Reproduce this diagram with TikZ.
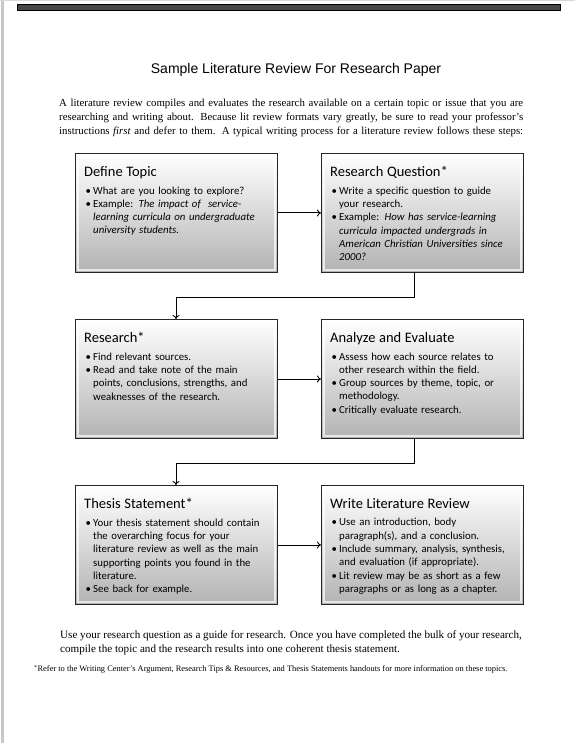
\documentclass[tikz,border=0pt]{standalone}
\usepackage{fontspec}
\setmainfont{Liberation Serif}
\newfontfamily\titlefont{Liberation Sans}
\newfontfamily\boxfont{Carlito}
\usetikzlibrary{arrows.meta,calc}
\newcommand{\bitem}[1]{\par\hangindent=9pt\hangafter=1\noindent\makebox[9pt][l]{\hspace{1.5pt}\textbullet}#1\par}
\tikzset{
  stepbox/.style={draw=black!85, line width=0.9pt, top color=white, bottom color=black!30,
    minimum width=202pt, minimum height=119pt, inner sep=0pt, anchor=north west},
  bevel/.style={draw=white, line width=1.6pt, opacity=0.7},
  boxtext/.style={anchor=north west, inner sep=0pt, text width=200pt, align=left,
    font=\boxfont\fontsize{10.8}{13.3}\selectfont},
  arr/.style={-{To[length=4pt,width=7pt]}, line width=0.9pt, black}
}
\newcommand{\boxhead}[1]{{\fontsize{14.5}{16}\selectfont #1}\par\vspace{4.5pt}}
\begin{document}
\begin{tikzpicture}[x=1pt,y=-1pt]
\useasboundingbox (0,0) rectangle (575,743);
\fill[white] (0,0) rectangle (575,743);
% page edges
\fill[black!22] (1,0) rectangle (3.5,743);
\fill[black!15] (0,0) rectangle (575,1.2);
\draw[fill=black!72, draw=black] (17,4) rectangle (560,10);

% title
\node[font=\titlefont\fontsize{14}{16}\selectfont, anchor=base] (title) at (296,74) {Sample Literature Review For Research Paper};

% intro paragraph
\node[anchor=north west, inner sep=0pt, align=left, font=\fontsize{10.8}{14}\selectfont] (intro) at (59,99)
{\makebox[464pt][s]{A literature review compiles and evaluates the research available on a certain topic or issue that you are}\\
 \makebox[464pt][s]{researching and writing about. Because lit review formats vary greatly, be sure to read your professor's}\\
 \makebox[464pt][s]{instructions \textit{first} and defer to them. A typical writing process for a literature review follows these steps:}};

% boxes
\node[stepbox] (b1) at (75,153) {};
\node[stepbox] (b2) at (321,153) {};
\node[stepbox] (b3) at (75,319) {};
\node[stepbox] (b4) at (321,319) {};
\node[stepbox] (b5) at (75,485) {};
\node[stepbox] (b6) at (321,485) {};
\foreach \b in {b1,b2,b3,b4,b5,b6}{
  \draw[bevel] ($(\b.north west)+(3,3)$) rectangle ($(\b.south east)+(-3,-3)$);
}

% box texts
\node[boxtext] (t1) at (84,166) {\boxhead{Define Topic}
\bitem{What are you looking to explore?}
\bitem{Example: \textit{The impact of\ \ service-}\newline\textit{learning curricula on undergraduate}\newline\textit{university students.}}};

\node[boxtext] (t2) at (330,166) {\boxhead{Research Question*}
\bitem{Write a specific question to guide\newline your research.}
\bitem{Example: \textit{How has service-learning}\newline\textit{curricula impacted undergrads in}\newline\textit{American Christian Universities since}\newline\textit{2000?}}};

\node[boxtext] (t3) at (84,332) {\boxhead{Research*}
\bitem{Find relevant sources.}
\bitem{Read and take note of the main\newline points, conclusions, strengths, and\newline weaknesses of the research.}};

\node[boxtext] (t4) at (330,332) {\boxhead{Analyze and Evaluate}
\bitem{Assess how each source relates to\newline other research within the field.}
\bitem{Group sources by theme, topic, or\newline methodology.}
\bitem{Critically evaluate research.}};

\node[boxtext] (t5) at (84,498) {\boxhead{Thesis Statement*}
\bitem{Your thesis statement should contain\newline the overarching focus for your\newline literature review as well as the main\newline supporting points you found in the\newline literature.}
\bitem{See back for example.}};

\node[boxtext] (t6) at (330,498) {\boxhead{Write Literature Review}
\bitem{Use an introduction, body\newline paragraph(s), and a conclusion.}
\bitem{Include summary, analysis, synthesis,\newline and evaluation (if appropriate).}
\bitem{Lit review may be as short as a few\newline paragraphs or as long as a chapter.}};

% connectors
\draw[arr] (b1) -- (b2);
\draw[arr] (b3) -- (b4);
\draw[arr] (b5) -- (b6);
\coordinate (k1) at (414,297);
\coordinate (k2) at (176,297);
\draw[arr] (b2.south -| k1) -- (k1) -- (k2) -- (b3.north -| k2);
\coordinate (k3) at (414,463);
\coordinate (k4) at (176,463);
\draw[arr] (b4.south -| k3) -- (k3) -- (k4) -- (b5.north -| k4);

% closing paragraph
\node[anchor=north west, inner sep=0pt, align=left, font=\fontsize{11.1}{14}\selectfont] (outro) at (60,630)
{Use your research question as a guide for research. Once you have completed the bulk of your research,\\
compile the topic and the research results into one coherent thesis statement.};

\node[anchor=north west, inner sep=0pt, align=left, font=\fontsize{8.4}{9}\selectfont] (foot) at (34,665)
{\textsuperscript{*}Refer to the Writing Center's Argument, Research Tips \& Resources, and Thesis Statements handouts for more information on these topics.};
\end{tikzpicture}
\end{document}
